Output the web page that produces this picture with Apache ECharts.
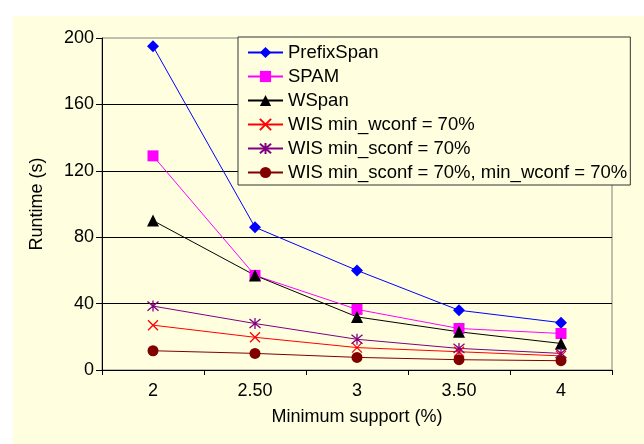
<!DOCTYPE html>
<html>
<head>
<meta charset="utf-8">
<script src="https://cdn.jsdelivr.net/npm/echarts@6/dist/echarts.min.js"></script>
<style>
  html, body { margin: 0; padding: 0; background: #ffffff; }
  #wrap { position: relative; width: 644px; height: 444px; background: #ffffff; }
  #panel { position: absolute; left: 13px; top: 16px; right: 0; bottom: 0; background: #ffffe0; }
  #chart { position: absolute; left: 0; top: 0; width: 644px; height: 444px; }
</style>
</head>
<body>
<div id="wrap">
  <div id="panel"></div>
  <div id="chart"></div>
</div>
<script>
// Minimum support levels (%)
const categories = ['2', '2.50', '3', '3.50', '4'];

// Runtime in seconds for each algorithm
const prefixSpan = [195, 86, 60, 36, 28.5];
const spam       = [129, 57, 36.5, 25, 22];
const wspan      = [90, 57, 32, 23, 16];
const wisWconf   = [27, 19.7, 13.5, 11, 8.5];
const wisSconf   = [38.5, 28, 18.5, 13, 10];
const wisBoth    = [11.6, 10, 7.6, 6.2, 5.6];

// Value-axis ticks
const yTicks = [0, 40, 80, 120, 160, 200];

const FONT = '"Liberation Sans", Arial, sans-serif';
const CROSS = 'path://M0,0L10,10M10,0L0,10';
const STAR  = 'path://M0,0L10,10M10,0L0,10M5,-1L5,11';

function lineSeries(name, data, color, symbol, size, stroke) {
  return {
    name: name,
    type: 'line',
    data: data,
    symbol: symbol,
    symbolSize: size,
    showAllSymbol: true,
    lineStyle: { color: color, width: 1 },
    itemStyle: stroke
      ? { color: color, borderColor: color, borderWidth: 1.3 }
      : { color: color, borderWidth: 0 },
    emphasis: { disabled: true },
    animation: false
  };
}

const chart = echarts.init(document.getElementById('chart'), null, { renderer: 'canvas' });

chart.setOption({
  backgroundColor: 'transparent',
  animation: false,
  textStyle: { fontFamily: FONT },
  grid: {
    left: 102, right: 32, top: 38, bottom: 74,
    show: true,
    backgroundColor: '#ffffe0',
    borderColor: '#808080',
    borderWidth: 1
  },
  legend: {
    orient: 'vertical',
    left: 238,
    top: 37,
    padding: [6, 3, 3, 9],
    itemWidth: 35,
    itemHeight: 14,
    itemGap: 5,
    backgroundColor: '#ffffe0',
    borderColor: '#333333',
    borderWidth: 1,
    z: 10,
    textStyle: { fontFamily: FONT, fontSize: 18.5, color: '#000', lineHeight: 18 },
    data: ['PrefixSpan', 'SPAM', 'WSpan', 'WIS min_wconf = 70%', 'WIS min_sconf = 70%',
           'WIS min_sconf = 70%, min_wconf = 70%']
  },
  xAxis: {
    type: 'category',
    data: categories,
    boundaryGap: true,
    name: 'Minimum support (%)',
    nameLocation: 'middle',
    nameGap: 38,
    nameTextStyle: { fontFamily: FONT, fontSize: 18, color: '#000' },
    axisLine: { lineStyle: { color: '#000', width: 1 } },
    axisTick: { show: true, length: 5, inside: false, lineStyle: { color: '#000' } },
    axisLabel: { fontFamily: FONT, fontSize: 18, color: '#000', margin: 12 },
    splitLine: { show: false }
  },
  yAxis: {
    type: 'value',
    min: yTicks[0],
    max: yTicks[yTicks.length - 1],
    interval: yTicks[1] - yTicks[0],
    name: 'Runtime (s)',
    nameLocation: 'middle',
    nameGap: 56,
    nameTextStyle: { fontFamily: FONT, fontSize: 18, color: '#000' },
    axisLine: { show: true, lineStyle: { color: '#000', width: 1 } },
    axisTick: { show: true, length: 6, inside: false, lineStyle: { color: '#000' } },
    axisLabel: { fontFamily: FONT, fontSize: 18, color: '#000', margin: 8 },
    splitLine: { show: true, showMaxLine: false, lineStyle: { color: '#000', width: 1 } }
  },
  series: [
    lineSeries('PrefixSpan', prefixSpan, '#0000ff', 'diamond', 12, false),
    lineSeries('SPAM', spam, '#ff00ff', 'rect', 11, false),
    lineSeries('WSpan', wspan, '#000000', 'triangle', 12, false),
    lineSeries('WIS min_wconf = 70%', wisWconf, '#ff0000', CROSS, 10, true),
    lineSeries('WIS min_sconf = 70%', wisSconf, '#800080', STAR, 11, true),
    lineSeries('WIS min_sconf = 70%, min_wconf = 70%', wisBoth, '#800000', 'circle', 11, false)
  ]
});
</script>
</body>
</html>
